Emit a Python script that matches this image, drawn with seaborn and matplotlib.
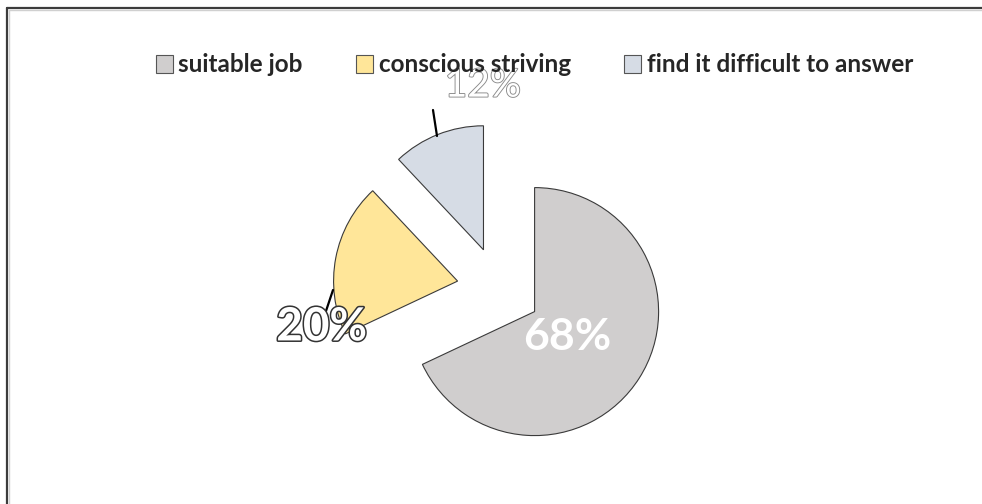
import matplotlib
matplotlib.use("Agg")
import matplotlib.pyplot as plt
import matplotlib.patheffects as pe
from matplotlib.patches import Patch
from matplotlib.lines import Line2D
import seaborn as sns

# Survey answers and their shares (percent)
categories = ["suitable job", "conscious striving", "find it difficult to answer"]
shares = [68, 20, 12]
pct_labels = ["68%", "20%", "12%"]

sns.set_theme(style="white")
plt.rcParams["font.family"] = ["Lato", "DejaVu Sans"]

colors = ["#d0cece", "#ffe699", "#d6dce5"]

W, H, DPI = 982, 504, 100
fig = plt.figure(figsize=(W / DPI, H / DPI), dpi=DPI)
ax = fig.add_axes([0, 0, 1, 1])

# Pie geometry in pixel units: centre and radius
cx, cy, r = 499, 289, 124

wedges, _ = ax.pie(
    shares,
    colors=colors,
    startangle=90,
    counterclock=False,
    explode=[0.34, 0.34, 0.34],
    radius=1.0,
    wedgeprops=dict(edgecolor="#3a3a3a", linewidth=0.8),
)
ax.set_xlim(-cx / r, (W - cx) / r)
ax.set_ylim(-(H - cy) / r, cy / r)
ax.set_aspect("auto")
ax.axis("off")

# Percentage labels
label_pos = [(0.55, -0.39), (-1.43, -0.31), (-0.13, 1.64)]
ax.text(*label_pos[0], pct_labels[0], ha="center", va="center",
        color="white", fontsize=32, fontweight="bold")
ax.text(*label_pos[1], pct_labels[1], ha="center", va="center",
        color="white", fontsize=33, fontweight="bold",
        path_effects=[pe.withStroke(linewidth=2.2, foreground="#333333")])
ax.text(*label_pos[2], pct_labels[2], ha="center", va="center",
        color="white", fontsize=28, fontweight="normal",
        path_effects=[pe.withStroke(linewidth=1.3, foreground="#8a8a8a")])

# Leader lines for the outside labels
ax.plot([(333 - cx) / r, (325 - cx) / r], [(cy - 290) / r, (cy - 314) / r],
        color="black", lw=1.6, solid_capstyle="round")
ax.plot([(437 - cx) / r, (433 - cx) / r], [(cy - 136) / r, (cy - 110) / r],
        color="black", lw=1.6, solid_capstyle="round")

# Legend across the top
handles = [Patch(facecolor=c, edgecolor="#555555", linewidth=0.8) for c in colors]
leg = fig.legend(handles, categories, loc="center", bbox_to_anchor=(534.5 / W, 1 - 65 / H),
                 ncol=3, frameon=False, handlelength=0.7, handleheight=0.7,
                 handletextpad=0.22, columnspacing=2.2,
                 prop=dict(family=["Lato", "DejaVu Sans"], weight="bold", size=17.5))

# Chart frame: top and left edges
fig.add_artist(Line2D([7 / W, 1], [1 - 8 / H, 1 - 8 / H], transform=fig.transFigure,
                      color="#3c3c3c", lw=1.6))
fig.add_artist(Line2D([7 / W, 7 / W], [0, 1 - 8 / H], transform=fig.transFigure,
                      color="#3c3c3c", lw=1.6))
fig.add_artist(Line2D([9 / W, 1], [1 - 10 / H, 1 - 10 / H], transform=fig.transFigure,
                      color="#d0d0d0", lw=1.0))
fig.add_artist(Line2D([9 / W, 9 / W], [0, 1 - 10 / H], transform=fig.transFigure,
                      color="#d0d0d0", lw=1.0))

fig.savefig("out.png", dpi=DPI)
